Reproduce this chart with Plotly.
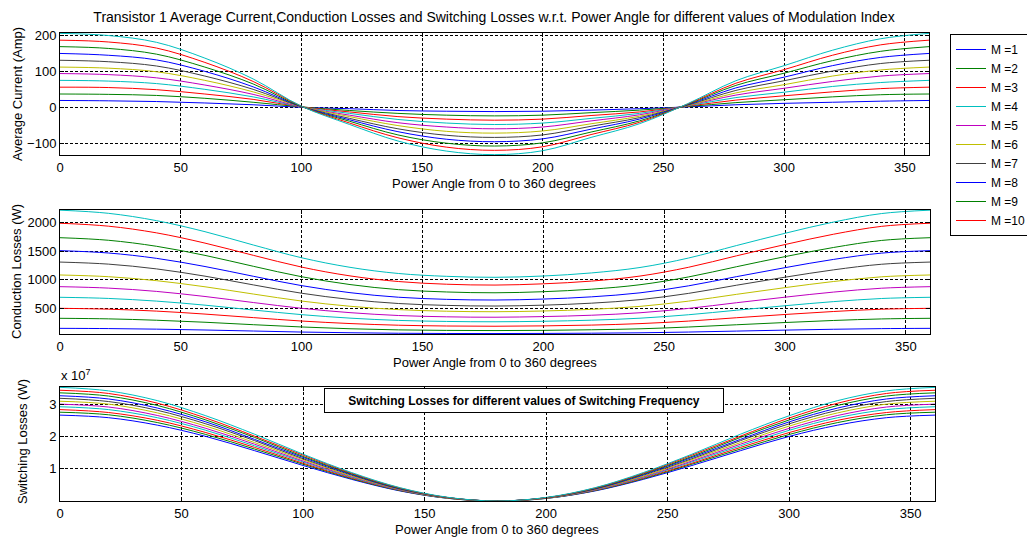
import plotly.graph_objects as go

# power angle samples (degrees)
angle = [0, 20, 40, 60, 80, 100, 120, 140, 160, 180, 200, 220, 240, 260, 280, 300, 320, 340, 360]

# average current (Amp), one list per curve
cur_1 = [19, 18, 16, 12, 7, 0, -4, -9, -11, -12, -11, -8, -4, 1, 7, 11, 14, 17, 19]
cur_2 = [37, 36, 33, 25, 14, 1, -9, -17, -22, -24, -22, -15, -8, 2, 13, 21, 29, 35, 37]
cur_3 = [56, 55, 49, 37, 22, 1, -13, -26, -33, -36, -33, -23, -13, 3, 20, 32, 43, 52, 56]
cur_4 = [75, 73, 66, 50, 29, 1, -17, -34, -44, -48, -44, -31, -17, 4, 27, 42, 58, 69, 75]
cur_5 = [94, 91, 82, 62, 36, 1, -22, -43, -55, -60, -55, -38, -21, 5, 34, 53, 72, 87, 94]
cur_6 = [112, 109, 99, 75, 43, 2, -26, -51, -67, -72, -66, -46, -25, 5, 40, 63, 87, 104, 112]
cur_7 = [131, 127, 115, 87, 50, 2, -31, -60, -78, -84, -77, -53, -29, 6, 47, 74, 101, 122, 131]
cur_8 = [150, 145, 132, 100, 57, 2, -35, -68, -89, -96, -88, -61, -33, 7, 54, 84, 116, 139, 150]
cur_9 = [169, 164, 148, 112, 65, 2, -39, -77, -100, -108, -99, -69, -38, 8, 61, 95, 130, 156, 169]
cur_10 = [187, 182, 165, 125, 72, 3, -44, -85, -111, -120, -110, -76, -42, 9, 67, 105, 145, 174, 187]
cur_11 = [206, 200, 181, 137, 79, 3, -48, -94, -122, -132, -121, -84, -46, 10, 74, 116, 159, 191, 206]

# conduction losses (W)
cond_1 = [149, 145, 135, 120, 102, 84, 72, 63, 59, 58, 60, 64, 71, 84, 101, 118, 133, 144, 149]
cond_2 = [325, 315, 291, 256, 213, 173, 142, 122, 113, 110, 114, 124, 141, 172, 212, 251, 287, 314, 325]
cond_3 = [500, 485, 451, 399, 337, 277, 233, 204, 190, 186, 192, 206, 232, 276, 335, 392, 444, 484, 500]
cond_4 = [693, 673, 626, 555, 470, 389, 328, 288, 270, 264, 273, 292, 327, 387, 467, 545, 617, 672, 693]
cond_5 = [879, 854, 796, 707, 601, 500, 424, 374, 351, 344, 355, 379, 422, 498, 598, 695, 784, 852, 879]
cond_6 = [1084, 1054, 984, 877, 750, 627, 536, 477, 449, 440, 453, 482, 534, 625, 745, 862, 969, 1052, 1084]
cond_7 = [1310, 1274, 1190, 1063, 910, 764, 655, 584, 551, 540, 555, 590, 652, 761, 905, 1045, 1173, 1272, 1310]
cond_8 = [1510, 1469, 1375, 1232, 1061, 897, 774, 694, 657, 645, 662, 701, 771, 893, 1055, 1212, 1356, 1467, 1510]
cond_9 = [1737, 1692, 1586, 1427, 1236, 1053, 916, 827, 786, 772, 791, 835, 913, 1049, 1229, 1405, 1565, 1689, 1737]
cond_10 = [1990, 1939, 1821, 1642, 1428, 1222, 1068, 969, 922, 907, 929, 977, 1065, 1218, 1420, 1617, 1797, 1936, 1990]
cond_11 = [2219, 2164, 2035, 1842, 1609, 1385, 1218, 1110, 1060, 1043, 1066, 1120, 1215, 1380, 1600, 1814, 2010, 2160, 2219]

# switching losses (x 10^7 W)
sw_1 = [2.66, 2.58, 2.35, 2.00, 1.56, 1.10, 0.67, 0.31, 0.08, 0.00, 0.08, 0.31, 0.67, 1.10, 1.56, 2.00, 2.35, 2.58, 2.66]
sw_2 = [2.75, 2.67, 2.43, 2.06, 1.61, 1.14, 0.69, 0.32, 0.08, 0.00, 0.08, 0.32, 0.69, 1.14, 1.61, 2.06, 2.43, 2.67, 2.75]
sw_3 = [2.83, 2.74, 2.50, 2.12, 1.66, 1.17, 0.71, 0.33, 0.09, 0.00, 0.09, 0.33, 0.71, 1.17, 1.66, 2.12, 2.50, 2.74, 2.83]
sw_4 = [2.92, 2.83, 2.58, 2.19, 1.71, 1.21, 0.73, 0.34, 0.09, 0.00, 0.09, 0.34, 0.73, 1.21, 1.71, 2.19, 2.58, 2.83, 2.92]
sw_5 = [3.00, 2.91, 2.65, 2.25, 1.76, 1.24, 0.75, 0.35, 0.09, 0.00, 0.09, 0.35, 0.75, 1.24, 1.76, 2.25, 2.65, 2.91, 3.00]
sw_6 = [3.09, 3.00, 2.73, 2.32, 1.81, 1.28, 0.77, 0.36, 0.09, 0.00, 0.09, 0.36, 0.77, 1.28, 1.81, 2.32, 2.73, 3.00, 3.09]
sw_7 = [3.18, 3.08, 2.81, 2.39, 1.87, 1.31, 0.80, 0.37, 0.10, 0.00, 0.10, 0.37, 0.80, 1.31, 1.87, 2.39, 2.81, 3.08, 3.18]
sw_8 = [3.26, 3.16, 2.88, 2.45, 1.91, 1.35, 0.82, 0.38, 0.10, 0.00, 0.10, 0.38, 0.82, 1.35, 1.91, 2.45, 2.88, 3.16, 3.26]
sw_9 = [3.35, 3.25, 2.96, 2.51, 1.97, 1.38, 0.84, 0.39, 0.10, 0.00, 0.10, 0.39, 0.84, 1.38, 1.97, 2.51, 2.96, 3.25, 3.35]
sw_10 = [3.43, 3.33, 3.03, 2.57, 2.01, 1.42, 0.86, 0.40, 0.10, 0.00, 0.10, 0.40, 0.86, 1.42, 2.01, 2.57, 3.03, 3.33, 3.43]
sw_11 = [3.52, 3.41, 3.11, 2.64, 2.07, 1.45, 0.88, 0.41, 0.11, 0.00, 0.11, 0.41, 0.88, 1.45, 2.07, 2.64, 3.11, 3.41, 3.52]

legend_labels = ["M =1", "M =2", "M =3", "M =4", "M =5", "M =6", "M =7", "M =8", "M =9", "M =10"]

current_series = [cur_1, cur_2, cur_3, cur_4, cur_5, cur_6, cur_7, cur_8, cur_9, cur_10, cur_11]
cond_series = [cond_1, cond_2, cond_3, cond_4, cond_5, cond_6, cond_7, cond_8, cond_9, cond_10, cond_11]
sw_series = [sw_1, sw_2, sw_3, sw_4, sw_5, sw_6, sw_7, sw_8, sw_9, sw_10, sw_11]

# old matlab line colour order
colors = ["#0000ff", "#008000", "#ff0000", "#00bfbf", "#bf00bf", "#bfbf00", "#404040"]

# the page body has an 8px margin, so the figure is drawn 8px in and down
OFF = 8
W, H = 1035 - OFF, 543 - OFF
FONT = "Liberation Sans, Arial, sans-serif"


def px_x(p):
    return (p - OFF) / W


def px_y(p):
    return 1 - (p - OFF) / H


fig = go.Figure()

panels = [
    (current_series, "x", "y"),
    (cond_series, "x2", "y2"),
    (sw_series, "x3", "y3"),
]
for n, (series, xa, ya) in enumerate(panels):
    for i, vals in enumerate(series):
        show = n == 0 and i < len(legend_labels)
        fig.add_trace(go.Scatter(
            x=angle, y=vals, xaxis=xa, yaxis=ya,
            mode="lines", line=dict(color=colors[i % len(colors)], width=1, shape="spline"),
            name=legend_labels[i] if show else None,
            showlegend=show, hoverinfo="skip",
        ))

axis_style = dict(
    showline=True, linecolor="black", linewidth=1, mirror="ticks",
    ticks="inside", ticklen=4, tickcolor="black",
    showgrid=True, gridcolor="black", gridwidth=1, griddash="3px,2px",
    zeroline=False, tickfont=dict(size=13, color="black", family=FONT),
    automargin=False, fixedrange=True,
)
xticks = dict(range=[0, 360], tickvals=[0, 50, 100, 150, 200, 250, 300, 350])

fig.update_layout(
    width=W, height=H,
    margin=dict(l=0, r=0, t=0, b=0),
    paper_bgcolor="white", plot_bgcolor="white",
    font=dict(family=FONT, size=13, color="black"),
    title=dict(
        text="Transistor 1 Average Current,Conduction Losses and Switching Losses w.r.t. Power Angle for different values of Modulation Index",
        x=px_x(494), y=px_y(17), xanchor="center", yanchor="middle",
        font=dict(size=14, color="black", family=FONT),
    ),
    xaxis=dict(domain=[px_x(60), px_x(929)], anchor="y", **xticks, **axis_style),
    yaxis=dict(domain=[px_y(155), px_y(33)], anchor="x", range=[-133, 207],
               tickvals=[-100, 0, 100, 200], **axis_style),
    xaxis2=dict(domain=[px_x(60), px_x(930)], anchor="y2", **xticks, **axis_style),
    yaxis2=dict(domain=[px_y(334), px_y(210)], anchor="x2", range=[50, 2222],
                tickvals=[500, 1000, 1500, 2000], **axis_style),
    xaxis3=dict(domain=[px_x(60), px_x(935)], anchor="y3", **xticks, **axis_style),
    yaxis3=dict(domain=[px_y(501), px_y(386.7)], anchor="x3", range=[0, 3.54],
                tickvals=[1, 2, 3], **axis_style),
    legend=dict(
        x=px_x(950), y=px_y(34), xanchor="left", yanchor="top",
        bordercolor="black", borderwidth=1, bgcolor="white",
        font=dict(size=12, color="black", family=FONT),
        tracegroupgap=0,
    ),
    showlegend=True,
)

xlabel = "Power Angle from 0 to 360 degrees"
notes = [
    (xlabel, 494, 184, 0),
    (xlabel, 495, 362, 0),
    (xlabel, 497, 529, 0),
    ("Average Current (Amp)", 17, 94, -90),
    ("Conduction Losses (W)", 17, 272, -90),
    ("Switching Losses (W)", 22, 442, -90),
]
for text, x, y, ang in notes:
    fig.add_annotation(text=text, x=px_x(x), y=px_y(y), xref="paper", yref="paper",
                       xanchor="center", yanchor="middle", showarrow=False,
                       textangle=ang, font=dict(size=13, color="black", family=FONT))

fig.add_annotation(text="x 10<sup>7</sup>", x=px_x(59), y=px_y(375), xref="paper", yref="paper",
                   xanchor="left", yanchor="middle", showarrow=False,
                   font=dict(size=13, color="black", family=FONT))

fig.add_annotation(text="<b>Switching Losses for different values of Switching Frequency</b>",
                   x=px_x(524), y=px_y(400), xref="paper", yref="paper",
                   xanchor="center", yanchor="middle", showarrow=False,
                   width=396, height=21, borderpad=1, bordercolor="black", borderwidth=1,
                   bgcolor="white", font=dict(size=12, color="black", family=FONT))

fig.write_html("out.html")
